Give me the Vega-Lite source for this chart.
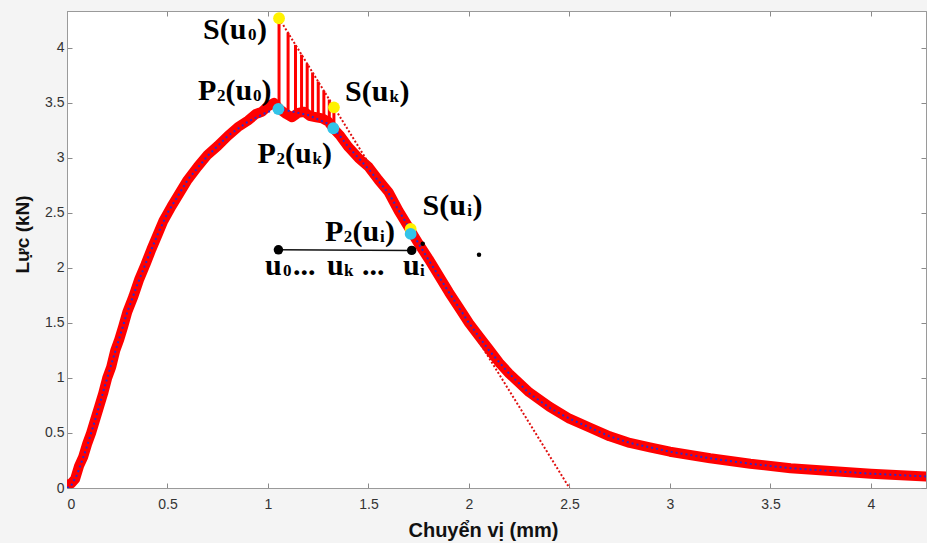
{
  "$schema": "https://vega.github.io/schema/vega-lite/v6.json",
  "width": 859,
  "height": 477,
  "autosize": {"type": "none"},
  "padding": {"left": 67, "top": 11, "right": 1, "bottom": 55},
  "background": "#f4f4f4",
  "config": {
    "view": {"fill": "white", "stroke": "#9a9a9a", "strokeWidth": 1},
    "axis": {
      "grid": false,
      "domainColor": "#9a9a9a",
      "tickColor": "#8a8a8a",
      "labelFont": "Liberation Sans",
      "labelFontSize": 14,
      "labelColor": "#333333",
      "titleFont": "Liberation Sans",
      "titleFontWeight": "bold",
      "titleColor": "#111111"
    }
  },
  "datasets": {
    "raw": [
      {"x": 0, "y": 0.03}, {"x": 0.02, "y": 0.04}, {"x": 0.04, "y": 0.08}, {"x": 0.06, "y": 0.2}, {"x": 0.08, "y": 0.28},
      {"x": 0.1, "y": 0.4}, {"x": 0.12, "y": 0.5}, {"x": 0.14, "y": 0.62}, {"x": 0.16, "y": 0.74}, {"x": 0.18, "y": 0.86},
      {"x": 0.2, "y": 1.0}, {"x": 0.22, "y": 1.1}, {"x": 0.24, "y": 1.25}, {"x": 0.26, "y": 1.35}, {"x": 0.28, "y": 1.47},
      {"x": 0.3, "y": 1.6}, {"x": 0.33, "y": 1.74}, {"x": 0.36, "y": 1.9}, {"x": 0.39, "y": 2.03}, {"x": 0.42, "y": 2.17},
      {"x": 0.45, "y": 2.3}, {"x": 0.48, "y": 2.43}, {"x": 0.52, "y": 2.56}, {"x": 0.56, "y": 2.68}, {"x": 0.6, "y": 2.8},
      {"x": 0.65, "y": 2.92}, {"x": 0.7, "y": 3.03}, {"x": 0.75, "y": 3.11}, {"x": 0.8, "y": 3.2}, {"x": 0.85, "y": 3.28},
      {"x": 0.9, "y": 3.34}, {"x": 0.94, "y": 3.4}, {"x": 0.97, "y": 3.42}, {"x": 1.0, "y": 3.47}, {"x": 1.03, "y": 3.5},
      {"x": 1.06, "y": 3.44}, {"x": 1.09, "y": 3.4}, {"x": 1.12, "y": 3.37}, {"x": 1.15, "y": 3.41}, {"x": 1.18, "y": 3.42},
      {"x": 1.21, "y": 3.38}, {"x": 1.24, "y": 3.37}, {"x": 1.27, "y": 3.36}, {"x": 1.3, "y": 3.33}, {"x": 1.33, "y": 3.26},
      {"x": 1.36, "y": 3.2}, {"x": 1.4, "y": 3.1}, {"x": 1.45, "y": 3.0}, {"x": 1.5, "y": 2.92}, {"x": 1.55, "y": 2.8},
      {"x": 1.6, "y": 2.69}, {"x": 1.65, "y": 2.52}, {"x": 1.7, "y": 2.37}, {"x": 1.75, "y": 2.22}, {"x": 1.8, "y": 2.08},
      {"x": 1.85, "y": 1.93}, {"x": 1.9, "y": 1.78}, {"x": 1.95, "y": 1.64}, {"x": 2.0, "y": 1.5}, {"x": 2.05, "y": 1.38},
      {"x": 2.1, "y": 1.26}, {"x": 2.15, "y": 1.14}, {"x": 2.2, "y": 1.04}, {"x": 2.3, "y": 0.87}, {"x": 2.4, "y": 0.74},
      {"x": 2.5, "y": 0.63}, {"x": 2.6, "y": 0.55}, {"x": 2.7, "y": 0.47}, {"x": 2.8, "y": 0.41}, {"x": 2.9, "y": 0.37},
      {"x": 3.0, "y": 0.33}, {"x": 3.2, "y": 0.27}, {"x": 3.4, "y": 0.22}, {"x": 3.6, "y": 0.18}, {"x": 3.8, "y": 0.155},
      {"x": 4.0, "y": 0.13}, {"x": 4.274, "y": 0.105}
    ],
    "fit": [
      {"x": 0, "y": 0}, {"x": 0.02, "y": 0.02}, {"x": 0.05, "y": 0.12}, {"x": 0.1, "y": 0.38}, {"x": 0.15, "y": 0.68},
      {"x": 0.2, "y": 1.0}, {"x": 0.25, "y": 1.3}, {"x": 0.3, "y": 1.6}, {"x": 0.35, "y": 1.85}, {"x": 0.4, "y": 2.08},
      {"x": 0.45, "y": 2.3}, {"x": 0.5, "y": 2.5}, {"x": 0.6, "y": 2.8}, {"x": 0.7, "y": 3.02}, {"x": 0.8, "y": 3.2},
      {"x": 0.9, "y": 3.33}, {"x": 1.0, "y": 3.42}, {"x": 1.05, "y": 3.445}, {"x": 1.1, "y": 3.43}, {"x": 1.2, "y": 3.39},
      {"x": 1.3, "y": 3.31}, {"x": 1.35, "y": 3.22}, {"x": 1.4, "y": 3.1}, {"x": 1.5, "y": 2.9}, {"x": 1.6, "y": 2.68},
      {"x": 1.7, "y": 2.37}, {"x": 1.8, "y": 2.07}, {"x": 1.9, "y": 1.78}, {"x": 2.0, "y": 1.5}, {"x": 2.1, "y": 1.25},
      {"x": 2.2, "y": 1.04}, {"x": 2.3, "y": 0.86}, {"x": 2.4, "y": 0.73}, {"x": 2.5, "y": 0.63}, {"x": 2.6, "y": 0.55},
      {"x": 2.7, "y": 0.47}, {"x": 2.8, "y": 0.41}, {"x": 2.9, "y": 0.37}, {"x": 3.0, "y": 0.33}, {"x": 3.2, "y": 0.27},
      {"x": 3.4, "y": 0.22}, {"x": 3.6, "y": 0.18}, {"x": 3.8, "y": 0.155}, {"x": 4.0, "y": 0.13}, {"x": 4.274, "y": 0.105}
    ],
    "tangent": [{"x": 1.055, "y": 4.27}, {"x": 2.5, "y": 0}],
    "hatch": [
      {"x": 1.055, "y": 3.44, "y2": 4.27},
      {"x": 1.1, "y": 3.41, "y2": 4.137},
      {"x": 1.137, "y": 3.4, "y2": 4.028},
      {"x": 1.167, "y": 3.41, "y2": 3.939},
      {"x": 1.195, "y": 3.4, "y2": 3.856},
      {"x": 1.222, "y": 3.38, "y2": 3.777},
      {"x": 1.25, "y": 3.37, "y2": 3.694},
      {"x": 1.278, "y": 3.36, "y2": 3.611},
      {"x": 1.305, "y": 3.33, "y2": 3.531},
      {"x": 1.328, "y": 3.28, "y2": 3.463}
    ],
    "segment": [{"x": 1.052, "y": 2.165}, {"x": 1.715, "y": 2.16}],
    "pts": [
      {"x": 1.055, "y": 4.27, "kind": "S"},
      {"x": 1.052, "y": 3.445, "kind": "P2"},
      {"x": 1.328, "y": 3.46, "kind": "S"},
      {"x": 1.325, "y": 3.27, "kind": "P2"},
      {"x": 1.71, "y": 2.31, "kind": "P2"},
      {"x": 1.71, "y": 2.355, "kind": "S"},
      {"x": 1.052, "y": 2.165, "kind": "u"},
      {"x": 1.715, "y": 2.16, "kind": "u"},
      {"x": 1.77, "y": 2.22, "kind": "dot"},
      {"x": 2.05, "y": 2.12, "kind": "dot"}
    ],
    "labels": [
      {"x": 0.677, "y": 4.085, "text": "S(u", "role": "main"},
      {"x": 0.9, "y": 4.085, "text": "0", "role": "sub"},
      {"x": 0.945, "y": 4.085, "text": ")", "role": "main"},
      {"x": 0.652, "y": 3.53, "text": "P", "role": "main"},
      {"x": 0.746, "y": 3.53, "text": "2", "role": "sub"},
      {"x": 0.789, "y": 3.53, "text": "(u", "role": "main"},
      {"x": 0.925, "y": 3.53, "text": "0", "role": "sub"},
      {"x": 0.968, "y": 3.53, "text": ")", "role": "main"},
      {"x": 1.383, "y": 3.515, "text": "S(u", "role": "main"},
      {"x": 1.605, "y": 3.515, "text": "k", "role": "sub"},
      {"x": 1.654, "y": 3.515, "text": ")", "role": "main"},
      {"x": 0.948, "y": 2.957, "text": "P", "role": "main"},
      {"x": 1.042, "y": 2.957, "text": "2", "role": "sub"},
      {"x": 1.085, "y": 2.957, "text": "(u", "role": "main"},
      {"x": 1.221, "y": 2.957, "text": "k", "role": "sub"},
      {"x": 1.269, "y": 2.957, "text": ")", "role": "main"},
      {"x": 1.769, "y": 2.485, "text": "S(u", "role": "main"},
      {"x": 1.992, "y": 2.485, "text": "i", "role": "sub"},
      {"x": 2.017, "y": 2.485, "text": ")", "role": "main"},
      {"x": 1.284, "y": 2.244, "text": "P", "role": "main"},
      {"x": 1.377, "y": 2.244, "text": "2", "role": "sub"},
      {"x": 1.42, "y": 2.244, "text": "(u", "role": "main"},
      {"x": 1.557, "y": 2.244, "text": "i", "role": "sub"},
      {"x": 1.582, "y": 2.244, "text": ")", "role": "main"},
      {"x": 0.985, "y": 1.935, "text": "u", "role": "main"},
      {"x": 1.075, "y": 1.935, "text": "0", "role": "sub"},
      {"x": 1.125, "y": 1.935, "text": "...", "role": "main"},
      {"x": 1.294, "y": 1.935, "text": "u", "role": "main"},
      {"x": 1.378, "y": 1.935, "text": "k", "role": "sub"},
      {"x": 1.468, "y": 1.935, "text": "...", "role": "main"},
      {"x": 1.672, "y": 1.935, "text": "u", "role": "main"},
      {"x": 1.756, "y": 1.935, "text": "i", "role": "sub"}
    ]
  },
  "resolve": {"axis": {"x": "independent", "y": "independent"}},
  "layer": [
    {
      "data": {"name": "hatch"},
      "mark": {"type": "rule", "color": "#ff0000", "strokeWidth": 3},
      "encoding": {
        "x": {"field": "x", "type": "quantitative", "scale": {"domain": [0, 4.274], "nice": false, "zero": false},
          "axis": {"orient": "bottom", "values": [0, 0.5, 1, 1.5, 2, 2.5, 3, 3.5, 4], "format": "~g", "tickSize": -5, "labelPadding": 14,
            "title": "Chuyển vị (mm)", "titleFontSize": 20, "titleX": 416, "titleY": 42, "titleBaseline": "middle", "titleAlign": "center"}},
        "y": {"field": "y", "type": "quantitative", "scale": {"domain": [0, 4.336], "nice": false, "zero": false},
          "axis": {"orient": "left", "values": [0, 0.5, 1, 1.5, 2, 2.5, 3, 3.5, 4], "format": "~g", "tickSize": -5, "labelPadding": 8,
            "title": "Lực (kN)", "titleFontSize": 19, "titleX": -45, "titleY": 223, "titleAngle": 270, "titleBaseline": "middle", "titleAlign": "center"}},
        "y2": {"field": "y2"}
      }
    },
    {
      "data": {"name": "raw"},
      "mark": {"type": "line", "color": "#ff0000", "strokeWidth": 10, "strokeCap": "round", "strokeJoin": "round", "clip": true},
      "encoding": {
        "x": {"field": "x", "type": "quantitative", "axis": null},
        "y": {"field": "y", "type": "quantitative", "axis": null}
      }
    },
    {
      "data": {"name": "tangent"},
      "mark": {"type": "line", "color": "#e01010", "strokeWidth": 2, "strokeDash": [2, 2], "clip": true},
      "encoding": {
        "x": {"field": "x", "type": "quantitative", "axis": null},
        "y": {"field": "y", "type": "quantitative", "axis": null}
      }
    },
    {
      "data": {"name": "fit"},
      "mark": {"type": "line", "color": "#2a2ad0", "strokeWidth": 2, "strokeDash": [2, 3], "clip": true},
      "encoding": {
        "x": {"field": "x", "type": "quantitative", "axis": null},
        "y": {"field": "y", "type": "quantitative", "axis": null}
      }
    },
    {
      "data": {"name": "segment"},
      "mark": {"type": "line", "color": "#111111", "strokeWidth": 1.5},
      "encoding": {
        "x": {"field": "x", "type": "quantitative", "axis": null},
        "y": {"field": "y", "type": "quantitative", "axis": null}
      }
    },
    {
      "data": {"name": "pts"},
      "transform": [{"filter": "datum.kind === 'S'"}],
      "mark": {"type": "circle", "opacity": 1, "color": "#fff200", "size": 140},
      "encoding": {
        "x": {"field": "x", "type": "quantitative", "axis": null},
        "y": {"field": "y", "type": "quantitative", "axis": null}
      }
    },
    {
      "data": {"name": "pts"},
      "transform": [{"filter": "datum.kind === 'P2'"}],
      "mark": {"type": "circle", "opacity": 1, "color": "#33c3e8", "size": 140},
      "encoding": {
        "x": {"field": "x", "type": "quantitative", "axis": null},
        "y": {"field": "y", "type": "quantitative", "axis": null}
      }
    },
    {
      "data": {"name": "pts"},
      "transform": [{"filter": "datum.kind === 'u'"}],
      "mark": {"type": "circle", "opacity": 1, "color": "#000000", "size": 90},
      "encoding": {
        "x": {"field": "x", "type": "quantitative", "axis": null},
        "y": {"field": "y", "type": "quantitative", "axis": null}
      }
    },
    {
      "data": {"name": "pts"},
      "transform": [{"filter": "datum.kind === 'dot'"}],
      "mark": {"type": "circle", "opacity": 1, "color": "#000000", "size": 20},
      "encoding": {
        "x": {"field": "x", "type": "quantitative", "axis": null},
        "y": {"field": "y", "type": "quantitative", "axis": null}
      }
    },
    {
      "data": {"name": "labels"},
      "transform": [{"filter": "datum.role === 'main'"}],
      "mark": {"type": "text", "font": "Liberation Serif", "fontWeight": "bold", "fontSize": 30, "align": "left", "baseline": "alphabetic", "color": "#000000"},
      "encoding": {
        "x": {"field": "x", "type": "quantitative", "axis": null},
        "y": {"field": "y", "type": "quantitative", "axis": null},
        "text": {"field": "text"}
      }
    },
    {
      "data": {"name": "labels"},
      "transform": [{"filter": "datum.role === 'sub'"}],
      "mark": {"type": "text", "font": "Liberation Serif", "fontWeight": "bold", "fontSize": 17, "align": "left", "baseline": "alphabetic", "dy": 1, "color": "#000000"},
      "encoding": {
        "x": {"field": "x", "type": "quantitative", "axis": null},
        "y": {"field": "y", "type": "quantitative", "axis": null},
        "text": {"field": "text"}
      }
    },
    {
      "data": {"name": "tangent"},
      "mark": {"type": "point", "opacity": 0},
      "encoding": {
        "x": {"field": "x", "type": "quantitative",
          "axis": {"orient": "top", "values": [0, 0.5, 1, 1.5, 2, 2.5, 3, 3.5, 4], "labels": false, "tickSize": -5, "title": null}},
        "y": {"field": "y", "type": "quantitative",
          "axis": {"orient": "right", "values": [0, 0.5, 1, 1.5, 2, 2.5, 3, 3.5, 4], "labels": false, "tickSize": -5, "title": null}}
      }
    }
  ]
}
